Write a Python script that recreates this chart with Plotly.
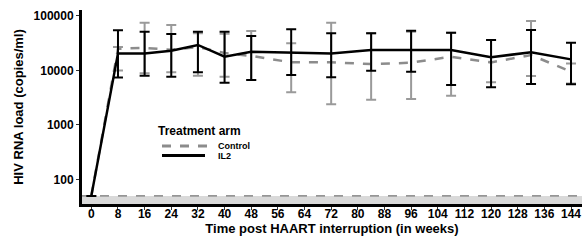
import plotly.graph_objects as go

weeks = [0, 8, 16, 24, 32, 40, 48, 60, 72, 84, 96, 108, 120, 132, 144]

il2_mean = [50, 20600, 20600, 23100, 29400, 17900, 22100, 21200, 20600, 23800, 23800, 23800, 17500, 21600, 16000]
il2_upper = [None, 55000, 51500, 46800, 51500, 51500, 43000, 57000, 48000, 48000, 53800, 49400, 36300, 55300, 32400]
il2_lower = [None, 7400, 8000, 7700, 9300, 5970, 6700, 8300, 7500, 9900, 9500, 5400, 4900, 5650, 5580]

ctrl_mean = [50, 25000, 26000, 24000, 27000, 21000, 18500, 14100, 14100, 13100, 13900, 17900, 14100, 19200, 9500]
ctrl_upper = [None, 27000, 75000, 68000, 48000, 47000, 53000, 31600, 75000, 48000, 51500, 49400, 36300, 81000, 13500]
ctrl_lower = [None, 10000, 8900, 9300, 8000, 7700, 6700, 4000, 2400, 2900, 3000, 3450, 6100, 7900, 5800]

x_ticks = list(range(0, 145, 8))
y_ticks = [100, 1000, 10000, 100000]
y_tick_text = ["100", "1000", "10000", "100000"]
detection_limit = 50
series_names = ["Control", "IL2"]


def err_plus(mean, upper):
    return [0 if u is None else u - m for m, u in zip(mean, upper)]


def err_minus(mean, lower):
    return [0 if l is None else m - l for m, l in zip(mean, lower)]


W, H = 582, 240
ML, MR, MT, MB = 82, 0, 10, 36
PW, PH = W - ML - MR, H - MT - MB


def px_x(px):
    return (px - ML) / PW


def px_y(py):
    return (H - MB - py) / PH


CTRL_LINE = "#8c8c8c"
CTRL_ERR = "#9a9a9a"

fig = go.Figure()

fig.add_trace(go.Scatter(
    x=weeks, y=ctrl_mean, mode="lines", name=series_names[0], showlegend=False,
    line=dict(color=CTRL_LINE, width=2.5, dash="dash"),
    error_y=dict(type="data", symmetric=False,
                 array=err_plus(ctrl_mean, ctrl_upper),
                 arrayminus=err_minus(ctrl_mean, ctrl_lower),
                 color=CTRL_ERR, thickness=2, width=5),
))
fig.add_trace(go.Scatter(
    x=weeks, y=il2_mean, mode="lines", name=series_names[1], showlegend=False,
    line=dict(color="black", width=2.5),
    error_y=dict(type="data", symmetric=False,
                 array=err_plus(il2_mean, il2_upper),
                 arrayminus=err_minus(il2_mean, il2_lower),
                 color="black", thickness=2, width=5),
))

# detection-limit band and line
fig.add_shape(type="rect", xref="paper", yref="y", x0=0, x1=1,
              y0=10, y1=detection_limit, fillcolor="#d9d9d9", line_width=0, layer="below")
fig.add_shape(type="line", xref="paper", yref="y", x0=0, x1=1,
              y0=detection_limit, y1=detection_limit,
              line=dict(color="#555555", width=1, dash="dash"), layer="below")

# manual legend
fig.add_annotation(xref="paper", yref="paper", x=px_x(156), y=px_y(131),
                   xanchor="left", yanchor="middle", showarrow=False,
                   text="<b>Treatment arm</b>", font=dict(size=12))
fig.add_shape(type="line", xref="paper", yref="paper",
              x0=px_x(162), x1=px_x(207), y0=px_y(146), y1=px_y(146),
              line=dict(color=CTRL_LINE, width=3, dash="dash"))
fig.add_shape(type="line", xref="paper", yref="paper",
              x0=px_x(162), x1=px_x(205), y0=px_y(155.5), y1=px_y(155.5),
              line=dict(color="black", width=3))
for name, py in zip(series_names, [146, 155.5]):
    fig.add_annotation(xref="paper", yref="paper", x=px_x(216), y=px_y(py),
                       xanchor="left", yanchor="middle", showarrow=False,
                       text=f"<b>{name}</b>", font=dict(size=9))

font_family = "Liberation Sans, Arial, sans-serif"

fig.update_layout(
    width=W, height=H,
    margin=dict(l=ML, r=MR, t=MT, b=MB),
    plot_bgcolor="white", paper_bgcolor="white",
    font=dict(family=font_family, color="black"),
    showlegend=False,
    xaxis=dict(
        range=[-2.8, 147.3], tickmode="array", tickvals=x_ticks,
        ticktext=[f"<b>{t}</b>" for t in x_ticks],
        tickfont=dict(size=12, family=font_family), ticks="outside", ticklen=3, tickcolor="#333",
        ticklabelstandoff=-6,
        showline=True, linecolor="black", linewidth=3, showgrid=False, zeroline=False,
        title=dict(text="<b>Time post HAART interruption (in weeks)</b>",
                   font=dict(size=13, family=font_family), standoff=0),
    ),
    yaxis=dict(
        type="log", range=[1.55, 5.11], tickmode="array", tickvals=y_ticks,
        ticktext=[f"<b>{t}</b>" for t in y_tick_text],
        tickfont=dict(size=12, family=font_family), ticks="outside", ticklen=3, tickcolor="#333",
        showline=True, linecolor="black", linewidth=3, showgrid=False, zeroline=False,
        title=dict(text="<b>HIV RNA load (copies/ml)</b>",
                   font=dict(size=13, family=font_family), standoff=8),
    ),
)

fig.write_html("out.html", config={"displayModeBar": False},
               post_script="document.body.style.margin='0';")
